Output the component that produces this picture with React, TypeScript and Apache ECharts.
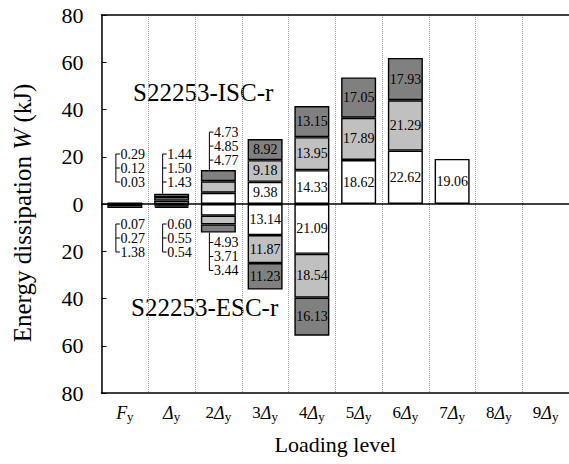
import React, { useEffect, useRef } from 'react';
import * as echarts from 'echarts';

// Loading levels (x categories)
const categories = ['Fy', 'Δy', '2Δy', '3Δy', '4Δy', '5Δy', '6Δy', '7Δy', '8Δy', '9Δy'];

// S22253-ISC-r (positive side): cycle 1 (white), cycle 2 (light grey), cycle 3 (dark grey)
const iscCycle1: (number | null)[] = [0.03, 1.43, 4.77, 9.38, 14.33, 18.62, 22.62, 19.06, null, null];
const iscCycle2: (number | null)[] = [0.12, 1.5, 4.85, 9.18, 13.95, 17.89, 21.29, null, null, null];
const iscCycle3: (number | null)[] = [0.29, 1.44, 4.73, 8.92, 13.15, 17.05, 17.93, null, null, null];

// S22253-ESC-r (negative side): cycle 1 (white), cycle 2 (light grey), cycle 3 (dark grey)
const escCycle1: (number | null)[] = [0.07, 0.6, 4.93, 13.14, 21.09, null, null, null, null, null];
const escCycle2: (number | null)[] = [0.27, 0.55, 3.71, 11.87, 18.54, null, null, null, null, null];
const escCycle3: (number | null)[] = [1.38, 0.54, 3.44, 11.23, 16.13, null, null, null, null, null];

// y-axis ticks
const yMin = -80;
const yMax = 80;
const yInterval = 20;

// number of leading categories whose values are called out beside the bar
const calloutCount = 3;

const FONT = 'Liberation Serif';
const WHITE = '#ffffff';
const LIGHT = '#c0c0c0';
const DARK = '#808080';

const neg = (arr: (number | null)[]) => arr.map((v) => (v == null ? null : -v));

const catLabel = (c: string) =>
  c === 'Fy' ? '{i|F}{s|y}' : '{n|' + c.replace('Δy', '') + '}{i|Δ}{s|y}';

const measure = (text: string, font: string) => {
  const ctx = document.createElement('canvas').getContext('2d');
  if (!ctx) return text.length * 10;
  ctx.font = font;
  return ctx.measureText(text).width;
};

export default function App() {
  const ref = useRef<HTMLDivElement>(null);

  useEffect(() => {
    if (!ref.current) return;
    const chart = echarts.init(ref.current, undefined, { renderer: 'svg' });

    const inLabel = {
      show: true,
      position: 'inside',
      fontFamily: FONT,
      fontSize: 14,
      color: '#000',
      formatter: (p: any) =>
        p.dataIndex < calloutCount || p.value == null ? '' : Math.abs(p.value).toFixed(2),
    };

    const barSeries = (name: string, data: (number | null)[], color: string) => ({
      name,
      type: 'bar',
      stack: 'w',
      barWidth: 35,
      data,
      itemStyle: { color, borderColor: '#000', borderWidth: 1.4 },
      label: inLabel,
      emphasis: { disabled: true },
    });

    const calloutData: number[][] = [];
    for (let i = 0; i < calloutCount; i++) {
      calloutData.push([i, 1]);
      calloutData.push([i, -1]);
    }

    // y-axis title built from plain text pieces (italic W)
    const nameSize = 25;
    const p1 = 'Energy dissipation ';
    const p2 = 'W';
    const p3 = ' (kJ)';
    const w1 = measure(p1, `${nameSize}px "${FONT}"`);
    const w2 = measure(p2, `italic ${nameSize}px "${FONT}"`);
    const w3 = measure(p3, `${nameSize}px "${FONT}"`);
    const start = -(w1 + w2 + w3) / 2;
    const namePart = (text: string, x: number, italic: boolean) => ({
      type: 'text',
      x,
      y: 0,
      style: {
        text,
        fontFamily: FONT,
        fontSize: nameSize,
        fontStyle: italic ? 'italic' : 'normal',
        fill: '#000',
        align: 'left',
        verticalAlign: 'middle',
      },
    });

    const option: any = {
      animation: false,
      textStyle: { fontFamily: FONT },
      grid: { left: 101.5, right: -1, top: 15, bottom: 71, containLabel: false },
      xAxis: [
        {
          type: 'category',
          data: categories,
          boundaryGap: true,
          axisLine: { onZero: false, lineStyle: { color: '#000', width: 1.5 } },
          axisTick: { show: false, interval: 0 },
          splitLine: { show: true, interval: 0, lineStyle: { color: '#999', type: 'dotted', width: 1 } },
          axisLabel: {
            interval: 0,
            margin: 9,
            color: '#000',
            fontFamily: FONT,
            fontSize: 16,
            formatter: (v: string) => catLabel(v),
            rich: {
              n: { fontFamily: FONT, fontSize: 17, color: '#000' },
              i: { fontFamily: FONT, fontSize: 18, fontStyle: 'italic', color: '#000' },
              s: { fontFamily: FONT, fontSize: 13, color: '#000', padding: [8, 0, 0, 0] },
            },
          },
          name: 'Loading level',
          nameLocation: 'middle',
          nameGap: 40,
          nameTextStyle: { fontFamily: FONT, fontSize: 22, color: '#000' },
        },
        {
          type: 'category',
          data: categories,
          position: 'top',
          axisLine: { onZero: false, lineStyle: { color: '#000', width: 1.5 } },
          axisTick: { show: false },
          axisLabel: { show: false },
          splitLine: { show: false },
        },
      ],
      yAxis: {
        type: 'value',
        min: yMin,
        max: yMax,
        interval: yInterval,
        axisLine: { show: true, lineStyle: { color: '#000', width: 1.5 } },
        axisTick: { show: true, inside: true, length: 5, lineStyle: { color: '#000' } },
        splitLine: { show: false },
        axisLabel: {
          margin: 18,
          color: '#000',
          fontFamily: FONT,
          fontSize: 22,
          formatter: (v: number) => String(Math.abs(v)),
        },
      },
      series: [
        {
          ...barSeries('ISC cycle 1', iscCycle1, WHITE),
          markLine: {
            silent: true,
            symbol: ['none', 'none'],
            label: { show: false },
            lineStyle: { color: '#000', type: 'solid', width: 1.5 },
            data: [{ yAxis: 0 }],
          },
        },
        barSeries('ISC cycle 2', iscCycle2, LIGHT),
        barSeries('ISC cycle 3', iscCycle3, DARK),
        barSeries('ESC cycle 1', neg(escCycle1), WHITE),
        barSeries('ESC cycle 2', neg(escCycle2), LIGHT),
        barSeries('ESC cycle 3', neg(escCycle3), DARK),
        {
          type: 'custom',
          name: 'callouts',
          coordinateSystem: 'cartesian2d',
          clip: false,
          silent: true,
          encode: { x: 0, y: 1 },
          data: calloutData,
          renderItem: (params: any, api: any) => {
            const cat = api.value(0);
            const sign = api.value(1);
            const vals =
              sign > 0
                ? [iscCycle3[cat], iscCycle2[cat], iscCycle1[cat]]
                : [escCycle1[cat], escCycle2[cat], escCycle3[cat]];
            const total = vals.reduce((a: number, b) => a + (b || 0), 0);
            const zero = api.coord([cat, 0]);
            const zeroY = zero[1];
            const endY = api.coord([cat, sign * total])[1];
            const bx = zero[0] - 9;
            const step = 14;
            let ys: number[];
            let near: number;
            if (sign > 0) {
              near = Math.min(endY - 10, zeroY - 22);
              ys = [near - 2 * step, near - step, near];
            } else {
              near = Math.max(endY + 10, zeroY + 20);
              ys = [near, near + step, near + 2 * step];
            }
            let y1 = ys[0];
            let y2 = ys[2];
            if (Math.abs(endY - near) <= 12) {
              if (sign > 0) y2 = endY;
              else y1 = endY;
            }
            const children: any[] = [
              {
                type: 'line',
                shape: { x1: bx, y1, x2: bx, y2 },
                style: { stroke: '#000', lineWidth: 1 },
              },
            ];
            vals.forEach((v, k) => {
              children.push({
                type: 'line',
                shape: { x1: bx, y1: ys[k], x2: bx + 4, y2: ys[k] },
                style: { stroke: '#000', lineWidth: 1 },
              });
              children.push({
                type: 'text',
                style: {
                  text: (v as number).toFixed(2),
                  x: bx + 4.5,
                  y: ys[k],
                  align: 'left',
                  verticalAlign: 'middle',
                  fontFamily: FONT,
                  fontSize: 14,
                  fill: '#000',
                },
              });
            });
            return { type: 'group', children };
          },
        },
      ],
      graphic: [
        {
          type: 'group',
          x: 22,
          y: 213,
          rotation: Math.PI / 2,
          children: [
            namePart(p1, start, false),
            namePart(p2, start + w1, true),
            namePart(p3, start + w1 + w2, false),
          ],
        },
        {
          type: 'text',
          left: 133,
          top: 80,
          style: { text: 'S22253-ISC-r', fontFamily: FONT, fontSize: 25, fill: '#000' },
        },
        {
          type: 'text',
          left: 131,
          top: 295,
          style: { text: 'S22253-ESC-r', fontFamily: FONT, fontSize: 25, fill: '#000' },
        },
      ],
    };

    chart.setOption(option);
    return () => chart.dispose();
  }, []);

  return (
    <div
      ref={ref}
      style={{ position: 'absolute', left: 0, top: 0, width: 569, height: 464 }}
    />
  );
}
